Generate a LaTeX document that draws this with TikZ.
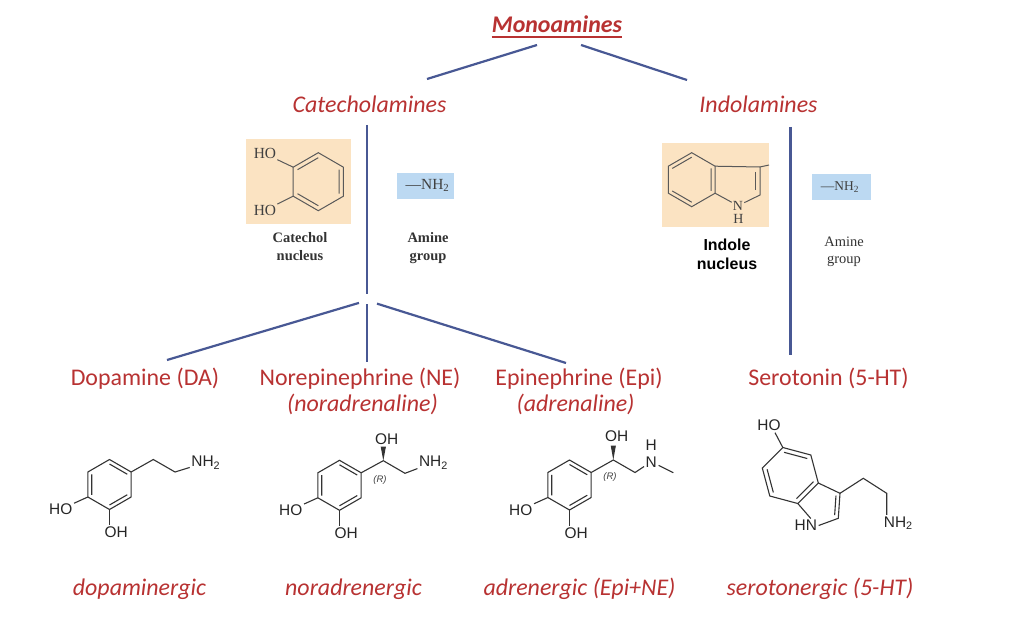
\documentclass[tikz,border=0pt]{standalone}
\usepackage{fontspec}
\setmainfont{Carlito}
\newfontfamily\chemfont{Liberation Sans}
\newfontfamily\bookfont{Liberation Serif}
\usetikzlibrary{calc}

\definecolor{labred}{RGB}{184,50,50}
\definecolor{treeblue}{RGB}{72,88,148}
\definecolor{nucleusfill}{RGB}{251,227,194}
\definecolor{aminefill}{RGB}{188,217,242}

\tikzset{
  tree/.style={draw=treeblue, line width=2.2bp},
  classname/.style={font=\fontsize{24}{28}\selectfont\itshape, text=labred, inner sep=0pt, anchor=base},
  drugname/.style={font=\fontsize{24}{28}\selectfont, text=labred, inner sep=0pt, anchor=base},
  bond/.style={draw=black!80, line width=1.1bp},
  atom/.style={font=\chemfont\fontsize{15.5}{18}\selectfont, text=black!85, inner sep=1.5bp},
  stereo/.style={font=\chemfont\itshape\fontsize{9.5}{11}\selectfont, text=black!75, inner sep=0pt},
  boxbond/.style={draw=black!65, line width=1bp},
  boxatom/.style={font=\bookfont\fontsize{15.5}{17}\selectfont, text=black!75, inner sep=1bp},
  boxnote/.style={font=\bookfont\bfseries\fontsize{14.5}{18}\selectfont, text=black!80, align=center, inner sep=0pt},
}

% catechol ring with its two OH groups: #1 centre, #2 name prefix
\newcommand{\catring}[2]{%
  \begin{scope}[shift={#1}]
    \draw[bond] (-90:25) -- (-30:25) -- (30:25) -- (90:25) -- (150:25) -- (210:25) -- cycle;
    \draw[bond] (150:20.5) -- (210:20.5) (-90:20.5) -- (-30:20.5) (30:20.5) -- (90:20.5);
    \coordinate (#2-c1) at (-30:25);
    \coordinate (#2-c4) at (0,25);
    \node[atom] (#2-ho) at (-48.7,24.7) {HO};
    \node[atom] (#2-oh) at (6.7,48) {OH};
    \draw[bond] (150:25) -- (#2-ho);
    \draw[bond] (#2-c4) -- (#2-c4 |- #2-oh.north);
  \end{scope}}

\begin{document}
\begin{tikzpicture}[x=1bp, y=-1bp]
    \useasboundingbox (0,0) rectangle (1034,620);
    \fill[white] (0,0) rectangle (1034,620);

    % Class headings
    \node[classname, font=\fontsize{24}{28}\selectfont\bfseries\itshape] (mono) at (557,33) {Monoamines};
    \draw[labred, line width=1.8bp] ($(mono.base west)+(0,4.2)$) -- ($(mono.base east)+(0,4.2)$);
    \node[classname] (cat) at (369.5,113) {Catecholamines};
    \node[classname] (indol) at (758.5,113) {Indolamines};
    \draw[tree] ($(mono.base)+(-20,12)$) -- ($(cat.base)+(57.5,-34)$);
    \draw[tree] ($(mono.base)+(24,12)$) -- ($(indol.base)+(-71.5,-33)$);

    % Catechol nucleus
    \fill[nucleusfill] (246,139.3) rectangle (351,224);
    \begin{scope}[shift={(318.3,181.7)}]
        \draw[boxbond] (-90:29) -- (-30:29) -- (30:29) -- (90:29) -- (150:29) -- (210:29) -- cycle;
        \draw[boxbond] (-90:24) -- (210:24) (-30:24) -- (30:24) (90:24) -- (150:24);
        \coordinate (cn-ul) at (210:29);
        \coordinate (cn-ll) at (150:29);
    \end{scope}
    \node[boxatom] (cn-ho1) at (265,153.8) {HO};
    \node[boxatom] (cn-ho2) at (265,210.3) {HO};
    \draw[boxbond] (cn-ul) -- (cn-ho1);
    \draw[boxbond] (cn-ll) -- (cn-ho2);
    \node[boxnote] (cn-note) at (300,247) {Catechol\\nucleus};

    % Amine group (catecholamines)
    \fill[aminefill] (396.7,172.7) rectangle (454.3,199);
    \node[boxatom] (am1) at (427.5,185.5) {\textemdash NH\textsubscript{2}};
    \node[boxnote] (am1-note) at (428,248) {Amine\\group};

    % Indole nucleus
    \fill[nucleusfill] (661.7,142.7) rectangle (769,227.3);
    \begin{scope}[shift={(691.7,179.7)}]
        \draw[boxbond] (-90:27) -- (-30:27) -- (30:27) -- (90:27) -- (150:27) -- (210:27) -- cycle;
        \draw[boxbond] (-90:22.5) -- (210:22.5) (-30:22.5) -- (30:22.5) (90:22.5) -- (150:22.5);
        \coordinate (in-c3a) at (-30:27);
        \coordinate (in-c7a) at (30:27);
    \end{scope}
    \coordinate (in-c3) at (760,167);
    \coordinate (in-c2) at (760,195);
    \coordinate (in-stub) at (769,165);
    \node[boxatom, font=\bookfont\fontsize{14}{16}\selectfont] (in-n) at (738,205.7) {N};
    \node[boxatom, font=\bookfont\fontsize{14}{16}\selectfont] (in-h) at (738.3,219) {H};
    \draw[boxbond] (in-c3a) -- (in-c3) -- (in-c2) -- (in-n) -- (in-c7a);
    \draw[boxbond] (in-c3) -- (in-stub);
    \draw[boxbond] (755,172) -- (755,190);
    \node[boxnote, font=\chemfont\bfseries\fontsize{16}{19}\selectfont, text=black] (in-note) at (727,254) {Indole\\nucleus};

    % Amine group (indolamines)
    \fill[aminefill] (811.7,174) rectangle (871,200);
    \node[boxatom, font=\bookfont\fontsize{13.5}{16}\selectfont] (am2) at (840,187) {\textemdash NH\textsubscript{2}};
    \node[boxnote, font=\bookfont\fontsize{14.5}{17}\selectfont] (am2-note) at (844,251.5) {Amine\\group};

    % Transmitters
    \node[drugname] (da) at (145,385) {Dopamine (DA)};
    \node[drugname] (ne) at (360,385) {Norepinephrine (NE)};
    \node[drugname] (epi) at (579,385) {Epinephrine (Epi)};
    \node[drugname] (sht) at (828.5,385) {Serotonin (5-HT)};
    \node[classname] (ne-alt) at (362.5,411) {(noradrenaline)};
    \node[classname] (epi-alt) at (575.5,411) {(adrenaline)};

    \coordinate (cj) at (367,300.5);
    \draw[tree, shorten >=6.5bp] ($(cat.base)+(-2.5,12)$) -- (cj);
    \draw[tree, shorten <=8.4bp] (cj) -- ($(da.base)+(22,-25)$);
    \draw[tree, shorten <=3.5bp] (cj) -- ($(ne.base)+(7,-23)$);
    \draw[tree, shorten <=10.5bp] (cj) -- ($(epi.base)+(-13,-22)$);
    \draw[tree] ($(indol.base)+(32,14)$) -- ($(sht.base)+(-38,-30)$);

    % Dopamine
    \catring{(109.5,484.5)}{da}
    \node[atom] (da-nh2) at (205.8,462.5) {NH\textsubscript{2}};
    \draw[bond] (da-c1) -- (153.3,459.5) -- (175,472) -- (da-nh2);

    % Norepinephrine
    \catring{(339.5,485.3)}{ne}
    \coordinate (ne-ca) at (383.3,460.7);
    \coordinate (ne-cb) at (405,473.3);
    \node[atom] (ne-hyd) at (386.7,438.7) {OH};
    \node[atom] (ne-nh2) at (433.5,462.5) {NH\textsubscript{2}};
    \node[stereo] (ne-cfg) at (380,480) {(R)};
    \draw[bond] (ne-c1) -- (ne-ca) -- (ne-cb) -- (ne-nh2);
    \fill[black!80] (ne-ca) -- ($(ne-ca)+(-2.6,-14)$) -- ($(ne-ca)+(2.6,-14)$) -- cycle;

    % Epinephrine
    \catring{(569.5,485)}{epi}
    \coordinate (epi-ca) at (613.3,460);
    \coordinate (epi-cb) at (635,472.5);
    \coordinate (epi-me) at (673.3,472.7);
    \node[atom] (epi-hyd) at (616.7,435.8) {OH};
    \node[atom] (epi-n) at (651.3,461.7) {N};
    \node[atom] (epi-h) at (651.3,445) {H};
    \node[stereo] (epi-cfg) at (610,476.7) {(R)};
    \draw[bond] (epi-c1) -- (epi-ca) -- (epi-cb) -- (epi-n) -- (epi-me);
    \fill[black!80] (epi-ca) -- ($(epi-ca)+(-2.6,-14.5)$) -- ($(epi-ca)+(2.6,-14.5)$) -- cycle;

    % Serotonin
    \begin{scope}[shift={(790.3,475.5)}]
        \draw[bond] (-105:29) -- (-45:29) -- (15:29) -- (75:29) -- (135:29) -- (195:29) -- cycle;
        \draw[bond] (-105:24) -- (-45:24) (135:24) -- (195:24) (15:24) -- (75:24);
        \coordinate (s-c5) at (-105:29);
        \coordinate (s-c3a) at (15:29);
        \coordinate (s-c7a) at (75:29);
    \end{scope}
    \coordinate (s-c3) at (840,493.3);
    \coordinate (s-c2) at (838.3,518.3);
    \coordinate (s-pc) at (821.7,503.6);
    \coordinate (s-ca) at (863.3,478.3);
    \coordinate (s-cb) at (886.7,493.3);
    \node[atom] (s-ho) at (769,425.5) {HO};
    \node[atom] (s-hn) at (805.8,525.5) {HN};
    \node[atom] (s-nh2) at (898.3,523.3) {NH\textsubscript{2}};
    \draw[bond] (s-c5) -- ([xshift=6bp]s-ho.south);
    \draw[bond] (s-c3a) -- (s-c3) -- (s-c2) -- (s-hn.east);
    \draw[bond] (s-c7a) -- ([xshift=5bp]s-hn.north);
    \draw[bond] ($(s-c3)!.22!(s-pc)$) -- ($(s-c2)!.22!(s-pc)$);
    \draw[bond] (s-c3) -- (s-ca) -- (s-cb) -- (s-cb |- s-nh2.north);

    % Neuron systems
    \node[classname] (da-sys) at (139.5,595) {dopaminergic};
    \node[classname] (ne-sys) at (353.5,595) {noradrenergic};
    \node[classname] (epi-sys) at (579.5,595) {adrenergic (Epi+NE)};
    \node[classname] (sht-sys) at (820,595) {serotonergic (5-HT)};
\end{tikzpicture}
\end{document}
